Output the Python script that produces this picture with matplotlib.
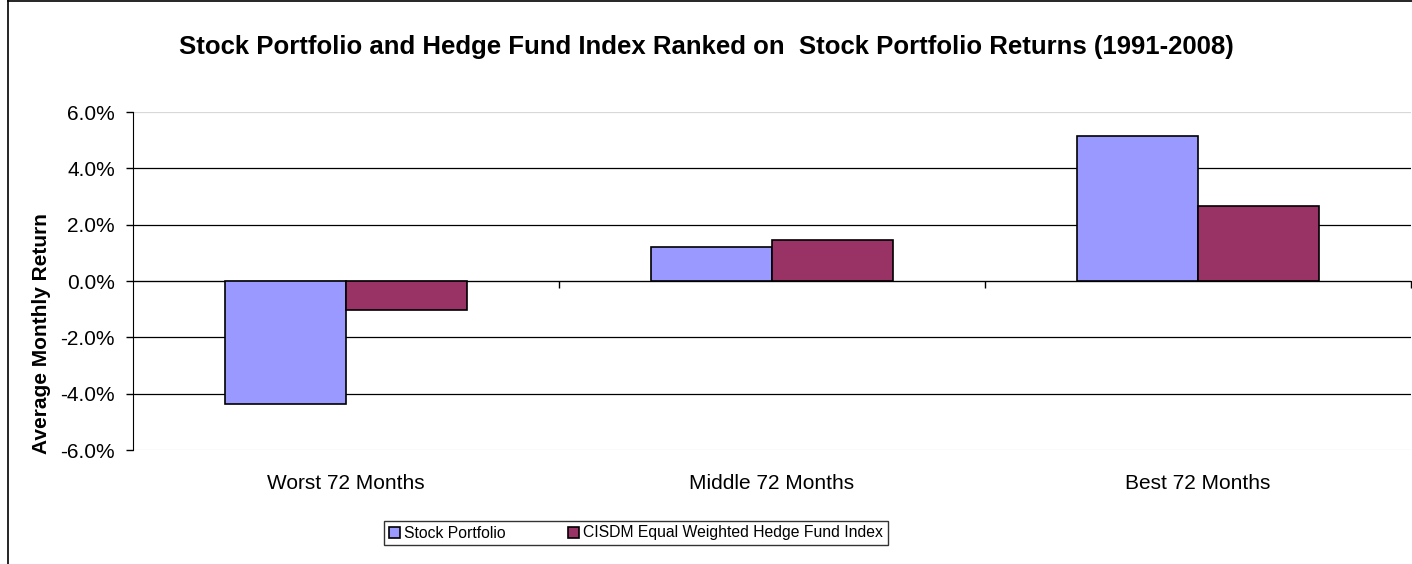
import matplotlib
matplotlib.use('Agg')
import matplotlib.pyplot as plt
from matplotlib.ticker import FuncFormatter
import numpy as np

plt.rcParams['font.family'] = ['Liberation Sans', 'DejaVu Sans']

categories = ['Worst 72 Months', 'Middle 72 Months', 'Best 72 Months']
stock = [-4.36, 1.20, 5.15]
hedge = [-1.03, 1.45, 2.66]
series_names = ['Stock Portfolio', 'CISDM Equal Weighted Hedge Fund Index']

fig = plt.figure(figsize=(14.12, 5.64), dpi=100)
ax = fig.add_axes([0.0942, 0.2021, 0.9051, 0.5993])

# chart border (left/top edges visible)
fig.add_artist(plt.Line2D([8/1412, 8/1412], [0, 1], color='black', lw=1.2,
                          transform=fig.transFigure))
fig.add_artist(plt.Line2D([8/1412, 1], [1 - 1/564, 1 - 1/564], color='black', lw=1.2,
                          transform=fig.transFigure))

x = np.arange(len(categories))
w = 0.284
b1 = ax.bar(x - w/2, stock, w, color='#9999FF', edgecolor='black', lw=1.2,
            label=series_names[0], zorder=3)
b2 = ax.bar(x + w/2, hedge, w, color='#993366', edgecolor='black', lw=1.2,
            label=series_names[1], zorder=3)

ax.set_xlim(-0.5, 2.5)
ax.set_ylim(-6, 6)
ax.set_yticks(np.arange(-6, 7, 2))
ax.yaxis.set_major_formatter(FuncFormatter(lambda v, p: f'{v:.1f}%'))
ax.tick_params(axis='y', direction='out', length=5, width=1, labelsize=15, pad=8)
ax.yaxis.grid(True, color='black', lw=0.9, zorder=0)
gl = ax.get_ygridlines()
gl[0].set_color('#d8d8d8')
gl[-1].set_color('#d8d8d8')
ax.set_axisbelow(True)

for s in ['top', 'right']:
    ax.spines[s].set_visible(False)
ax.spines['left'].set_color('black')
ax.spines['bottom'].set_position(('data', 0))
ax.spines['bottom'].set_color('black')
ax.set_xticks([0.5, 1.5, 2.5])
ax.set_xticklabels([])
ax.tick_params(axis='x', direction='out', length=5, width=1)

for i, c in enumerate(categories):
    ax.text(x[i], -0.098, c, transform=ax.get_xaxis_transform(), ha='center',
            va='center', fontsize=15)

ax.set_ylabel('Average Monthly Return', fontsize=15, fontweight='bold')
ax.yaxis.set_label_coords(-0.064, 0.346)

fig.text(0.5, 1 - 47/564, 'Stock Portfolio and Hedge Fund Index Ranked on  Stock Portfolio Returns (1991-2008)',
         ha='center', va='center', fontsize=18.5, fontweight='bold')

leg = fig.legend(handles=[b1, b2], loc='center', bbox_to_anchor=(636/1412, 1 - 533/564),
                 ncol=2, fontsize=11.3, frameon=True, fancybox=False, edgecolor='black',
                 handlelength=0.7, handleheight=0.7, handletextpad=0.25, columnspacing=4,
                 borderpad=0.3)
leg.get_frame().set_linewidth(1)

fig.savefig('out.png', dpi=100, facecolor='white')
